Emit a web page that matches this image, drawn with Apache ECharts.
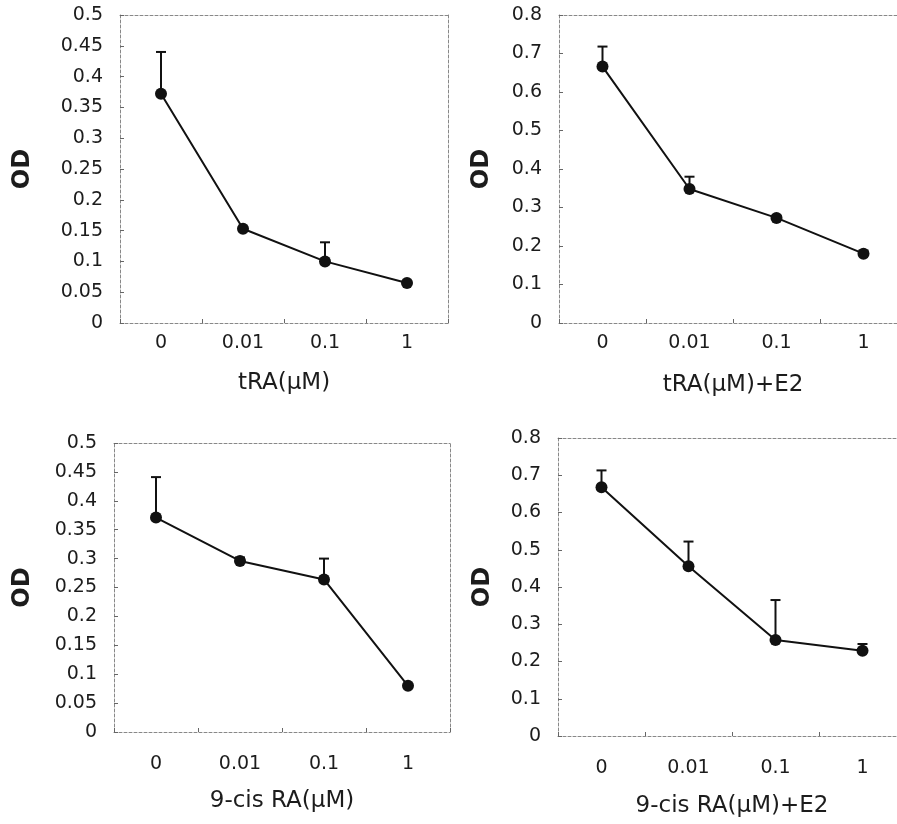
<!DOCTYPE html>
<html>
<head>
<meta charset="utf-8">
<script src="https://cdn.jsdelivr.net/npm/echarts@6/dist/echarts.min.js"></script>
<style>
html,body{margin:0;padding:0;background:#fff;}
#c{width:897px;height:824px;}
</style>
</head>
<body>
<div id="c"></div>
<script>
// ---- data ----
const categories = ['0', '0.01', '0.1', '1'];

const traMean   = [0.372, 0.153, 0.100, 0.065];
const traSD     = [0.068, 0.003, 0.031, 0.003];

const traE2Mean = [0.666, 0.348, 0.273, 0.180];
const traE2SD   = [0.052, 0.032, 0.006, 0.008];

const cisMean   = [0.371, 0.296, 0.264, 0.080];
const cisSD     = [0.070, 0.006, 0.036, 0.003];

const cisE2Mean = [0.668, 0.456, 0.258, 0.229];
const cisE2SD   = [0.045, 0.066, 0.107, 0.018];

const xTitles = ['tRA(\u03bcM)', 'tRA(\u03bcM)+E2', '9-cis RA(\u03bcM)', '9-cis RA(\u03bcM)+E2'];
const yTitle = 'OD';
const yMax = [0.5, 0.8, 0.5, 0.8];
const yStep = [0.05, 0.1, 0.05, 0.1];

// ---- layout ----
const grids = [
  {left: 120, top: 15,  width: 328, height: 308},
  {left: 559, top: 15,  width: 348, height: 308},
  {left: 114, top: 443, width: 336, height: 289},
  {left: 558, top: 438, width: 348, height: 298}
];
const xLabelMargin = [11, 11, 23, 23];
const xNameGap = [49, 51, 58, 59];
const yNameGap = [85, 65, 79, 63];

const means = [traMean, traE2Mean, cisMean, cisE2Mean];
const sds = [traSD, traE2SD, cisSD, cisE2SD];

const FONT = 'DejaVu Sans';
const TXT = '#1c1c1c';
const frameLine = {show: true, onZero: false, lineStyle: {color: '#888', width: 1, type: [3, 2]}};

const xAxes = [], yAxes = [], series = [];
grids.forEach((g, i) => {
  // main x axis
  xAxes.push({
    gridIndex: i, type: 'category', data: categories, position: 'bottom',
    axisLine: frameLine,
    axisTick: {show: true, inside: true, length: 4, lineStyle: {color: '#666'}},
    axisLabel: {color: TXT, fontFamily: FONT, fontSize: 19, margin: xLabelMargin[i]},
    name: xTitles[i], nameLocation: 'middle', nameGap: xNameGap[i],
    nameTextStyle: {color: TXT, fontFamily: FONT, fontSize: 23},
    splitLine: {show: false}
  });
  // top frame
  xAxes.push({
    gridIndex: i, type: 'category', data: categories, position: 'top',
    axisLine: frameLine, axisTick: {show: false}, axisLabel: {show: false},
    splitLine: {show: false}
  });
  // main y axis
  yAxes.push({
    gridIndex: i, type: 'value', min: 0, max: yMax[i], interval: yStep[i], position: 'left',
    axisLine: frameLine,
    axisTick: {show: true, inside: true, length: 4, lineStyle: {color: '#666'}},
    axisLabel: {color: TXT, fontFamily: FONT, fontSize: 19, margin: 17},
    name: yTitle, nameLocation: 'middle', nameGap: yNameGap[i],
    nameTextStyle: {color: TXT, fontFamily: FONT, fontSize: 24, fontWeight: 'bold'},
    splitLine: {show: false}
  });
  // right frame
  yAxes.push({
    gridIndex: i, type: 'value', min: 0, max: yMax[i], interval: yStep[i], position: 'right',
    axisLine: frameLine, axisTick: {show: false}, axisLabel: {show: false},
    splitLine: {show: false}
  });

  series.push({
    type: 'custom', xAxisIndex: 2 * i, yAxisIndex: 2 * i, z: 1,
    encode: {x: 0, y: 1},
    data: categories.map((c, k) => [k, means[i][k], sds[i][k]]),
    renderItem: function (params, api) {
      const x = api.value(0), m = api.value(1), s = api.value(2);
      const p0 = api.coord([x, m]);
      const p1 = api.coord([x, m + s]);
      return {
        type: 'group',
        children: [
          {type: 'line', shape: {x1: p0[0], y1: p0[1], x2: p1[0], y2: p1[1]},
           style: {stroke: '#111', lineWidth: 2}},
          {type: 'line', shape: {x1: p1[0] - 5, y1: p1[1], x2: p1[0] + 5, y2: p1[1]},
           style: {stroke: '#111', lineWidth: 2}}
        ]
      };
    },
    silent: true
  });
  series.push({
    type: 'line', xAxisIndex: 2 * i, yAxisIndex: 2 * i, z: 3,
    data: means[i],
    symbol: 'circle', symbolSize: 12,
    itemStyle: {color: '#111'},
    lineStyle: {color: '#111', width: 2},
    animation: false, silent: true
  });
});

const chart = echarts.init(document.getElementById('c'), null, {renderer: 'canvas'});
chart.setOption({
  animation: false,
  backgroundColor: '#fff',
  grid: grids.map(g => Object.assign({containLabel: false, outerBoundsMode: 'none'}, g)),
  xAxis: xAxes,
  yAxis: yAxes,
  series: series
});
</script>
</body>
</html>
